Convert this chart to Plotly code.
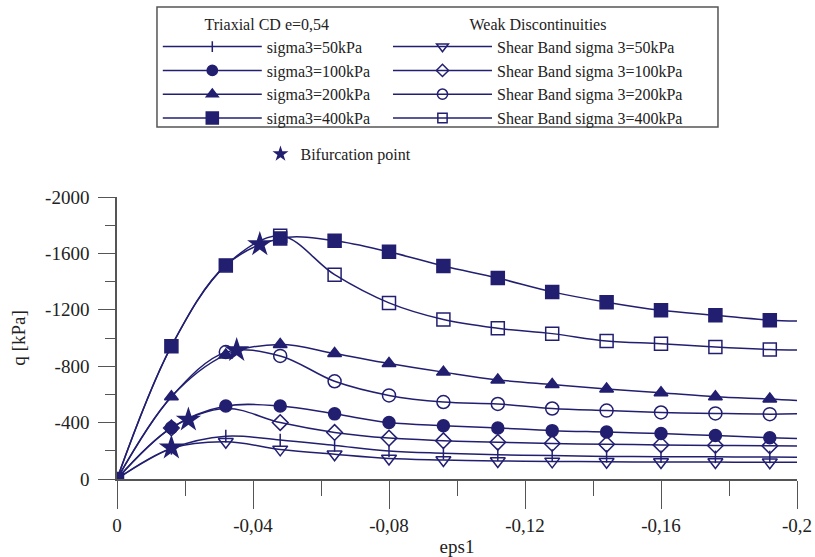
import plotly.graph_objects as go

# ---------------- data ----------------
EPS = [0, -0.016, -0.032, -0.048, -0.064, -0.08, -0.096, -0.112, -0.128, -0.144, -0.16, -0.176, -0.192]
EPS_END = -0.2

# Triaxial CD e=0,54
Q_50 = [0, -217, -304, -276, -238, -199, -183, -172, -166, -160, -158, -157, -156]
Q_100 = [0, -363, -517, -517, -462, -400, -378, -362, -343, -333, -322, -308, -293]
Q_200 = [0, -583, -880, -954, -890, -819, -758, -703, -670, -639, -612, -583, -567]
Q_400 = [0, -942, -1515, -1706, -1690, -1611, -1511, -1425, -1327, -1254, -1196, -1161, -1126]
Q_END = [-155, -287, -556, -1120]

# Weak discontinuities (shear band)
SB_50 = [0, -217, -264, -210, -175, -145, -135, -128, -125, -122, -121, -120, -119]
SB_100 = [0, -362, -500, -400, -330, -290, -272, -260, -252, -246, -242, -238, -235]
SB_200 = [0, -583, -900, -873, -693, -593, -546, -532, -500, -485, -472, -465, -460]
SB_400 = [0, -942, -1515, -1725, -1449, -1249, -1131, -1069, -1031, -979, -960, -936, -919]
SB_END = [-118, -234, -462, -915]

# Bifurcation points
BIF_EPS = [-0.016, -0.021, -0.0352, -0.042]
BIF_Q = [-222, -420, -913, -1664]

MAIN_NAMES = ["sigma3=50kPa", "sigma3=100kPa", "sigma3=200kPa", "sigma3=400kPa"]
SB_NAMES = ["Shear Band sigma 3=50kPa", "Shear Band sigma 3=100kPa",
            "Shear Band sigma 3=200kPa", "Shear Band sigma 3=400kPa"]

X_TICKS = [0, -0.04, -0.08, -0.12, -0.16, -0.2]
X_TICKTEXT = ["0", "-0,04", "-0,08", "-0,12", "-0,16", "-0,2"]
Y_TICKS = [0, -400, -800, -1200, -1600, -2000]
Y_TICKTEXT = ["0", "-400", "-800", "-1200", "-1600", "-2000"]

# ---------------- style ----------------
NAVY = "#221f70"
FONT = "Liberation Serif"
TXT = "#222"

main_styles = [
    dict(symbol="line-ns", size=9, hide={0}),
    dict(symbol="circle", size=12, hide={0}),
    dict(symbol="triangle-up", size=12, hide={0}),
    dict(symbol="square", size=13, hide=set()),
]
sb_styles = [
    dict(symbol="triangle-down-open", size=13, hide={0, 1}),
    dict(symbol="diamond-open", size=12, hide={0, 2}),
    dict(symbol="circle-open", size=13, hide={0, 1}),
    dict(symbol="square-open", size=13, hide={0, 1, 2}),
]

fig = go.Figure()


def add_series(yvals, yend, name, st, legend):
    xs = EPS + [EPS_END]
    ys = yvals + [yend]
    sizes = [0 if (i in st["hide"] or i == len(EPS)) else st["size"] for i in range(len(xs))]
    fig.add_trace(go.Scatter(
        x=xs, y=ys, name=name, legend=legend,
        mode="lines+markers",
        line=dict(color=NAVY, width=1.5, shape="spline", smoothing=1),
        marker=dict(symbol=st["symbol"], size=sizes, color=NAVY, opacity=1,
                    line=dict(color=NAVY, width=1.5)),
    ))


for vals, end, nm, st in zip([SB_50, SB_100, SB_200, SB_400], SB_END, SB_NAMES, sb_styles):
    add_series(vals, end, nm, st, "legend2")
for vals, end, nm, st in zip([Q_50, Q_100, Q_200, Q_400], Q_END, MAIN_NAMES, main_styles):
    add_series(vals, end, nm, st, "legend")

fig.add_trace(go.Scatter(
    x=BIF_EPS, y=BIF_Q, name="Bifurcation point", legend="legend3",
    mode="markers",
    marker=dict(symbol="star", size=19, color=NAVY, opacity=1, line=dict(width=0)),
))

axis_common = dict(
    showline=True, linecolor="#555", linewidth=1.5,
    showgrid=False, zeroline=False, automargin=False,
    ticks="outside", tickcolor="#555", tickwidth=1.2,
    tickfont=dict(family=FONT, size=19, color=TXT),
)

fig.update_xaxes(
    range=[0, -0.2], tickvals=X_TICKS, ticktext=X_TICKTEXT, ticklen=28,
    minor=dict(dtick=0.02, ticks="outside", ticklen=15, tickcolor="#555", tickwidth=1.2),
    title=dict(text="eps1", font=dict(family=FONT, size=19, color=TXT), standoff=6),
    **axis_common,
)
fig.update_yaxes(
    range=[0, -2000], tickvals=Y_TICKS, ticktext=Y_TICKTEXT, ticklen=17,
    ticklabelstandoff=5,
    minor=dict(dtick=200, ticks="outside", ticklen=10, tickcolor="#555", tickwidth=1.2),
    title=dict(text="q [kPa]", font=dict(family=FONT, size=19, color=TXT), standoff=14),
    **axis_common,
)

LEG_FONT = dict(family=FONT, size=16, color=TXT)
leg_common = dict(
    xanchor="left", yanchor="top", yref="container",
    bgcolor="rgba(0,0,0,0)", borderwidth=0,
    font=LEG_FONT, traceorder="normal",
)

fig.update_layout(
    width=815, height=557,
    margin=dict(l=117, r=18, t=197, b=78),
    paper_bgcolor="white", plot_bgcolor="white",
    font=dict(family=FONT, size=16, color=TXT),
    showlegend=True,
    legend=dict(x=0.06, y=0.984, itemwidth=99,
                title=dict(text="Triaxial CD e=0,54", side="top center", font=LEG_FONT),
                **leg_common),
    legend2=dict(x=0.3985, y=0.984, itemwidth=99,
                 title=dict(text="Weak Discontinuities", side="top center", font=LEG_FONT),
                 **leg_common),
    legend3=dict(x=0.211, y=0.754, itemwidth=30, itemsizing="constant", **leg_common),
    shapes=[dict(type="rect", xref="paper", yref="paper",
                 x0=0.0588, x1=0.8838, y0=1.2482, y1=1.6738,
                 line=dict(color="#555", width=1.5))],
)

fig.write_html("out.html")
